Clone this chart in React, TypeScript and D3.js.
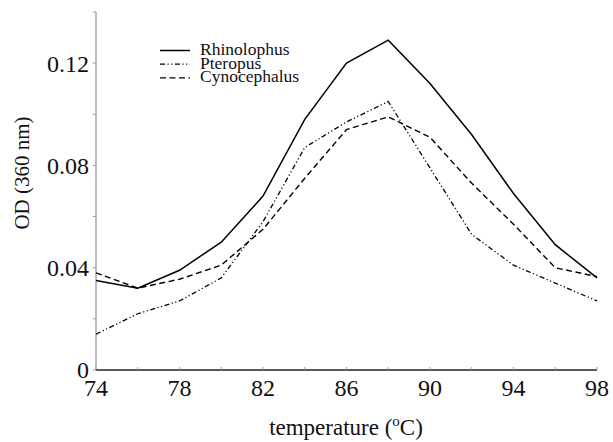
import React from "react";
import * as d3 from "d3";

const temps = [74, 76, 78, 80, 82, 84, 86, 88, 90, 92, 94, 96, 98];
const rhinolophus = [0.035, 0.032, 0.039, 0.05, 0.068, 0.098, 0.12, 0.129, 0.112, 0.092, 0.069, 0.049, 0.036];
const pteropus = [0.014, 0.022, 0.027, 0.036, 0.058, 0.087, 0.097, 0.105, 0.079, 0.053, 0.041, 0.034, 0.027];
const cynocephalus = [0.038, 0.032, 0.0355, 0.041, 0.055, 0.075, 0.094, 0.099, 0.091, 0.073, 0.057, 0.04, 0.0365];
const seriesNames = ["Rhinolophus", "Pteropus", "Cynocephalus"];
const yTickValues = [0, 0.04, 0.08, 0.12];
const yTickLabels = ["0", "0.04", "0.08", "0.12"];
const yMinorValues = [0.02, 0.06, 0.1, 0.14];
const xTickValues = [74, 78, 82, 86, 90, 94, 98];
const xMinorValues = [76, 80, 84, 88, 92, 96];

const W = 613;
const H = 442;
const FONT = "Liberation Serif, DejaVu Serif, serif";

export default function App() {
  const x = d3.scaleLinear().domain([74, 98]).range([96, 597]);
  const y = d3.scaleLinear().domain([0, 0.14]).range([370, 12]);
  const series = [
    { name: seriesNames[0], values: rhinolophus, dash: "none", width: 1.5 },
    { name: seriesNames[1], values: pteropus, dash: "5,2.5,1.2,2.5,1.2,2.5", width: 1.3 },
    { name: seriesNames[2], values: cynocephalus, dash: "6,3.5", width: 1.4 },
  ];
  const line = d3
    .line<[number, number]>()
    .x((d) => x(d[0]))
    .y((d) => y(d[1]));
  const axisGray = "#9a9a9a";
  const txt = { fontFamily: FONT, fill: "#111" } as React.CSSProperties;
  return (
    <svg
      width={W}
      height={H}
      style={{ position: "absolute", left: 0, top: 0, background: "#fff", fontFamily: FONT }}
    >
      {/* y axis */}
      <line x1={x(74)} x2={x(74)} y1={y(0.14)} y2={y(0)} stroke={axisGray} strokeWidth={1.3} />
      {[...yTickValues, ...yMinorValues].map((v) => (
        <line key={"yt" + v} x1={x(74) - 3} x2={x(74)} y1={y(v)} y2={y(v)} stroke={axisGray} strokeWidth={1} />
      ))}
      {yTickValues.map((v, i) => (
        <text key={"yl" + v} x={89} y={y(v)} dy="0.35em" textAnchor="end" fontSize={24} style={txt}>
          {yTickLabels[i]}
        </text>
      ))}
      {/* x axis */}
      <line x1={x(74)} x2={x(98)} y1={y(0)} y2={y(0)} stroke="#222" strokeWidth={1.3} />
      {[...xTickValues, ...xMinorValues].map((v) => (
        <line key={"xt" + v} x1={x(v)} x2={x(v)} y1={y(0)} y2={y(0) - 3} stroke={axisGray} strokeWidth={1} />
      ))}
      {xTickValues.map((v) => (
        <text key={"xl" + v} x={x(v)} y={396} textAnchor="middle" fontSize={24} style={txt}>
          {v}
        </text>
      ))}
      {/* axis titles */}
      <text x={346} y={435} textAnchor="middle" fontSize={23} style={txt}>
        temperature (
        <tspan dy={-9} fontSize={15}>o</tspan>
        <tspan dy={9}>C)</tspan>
      </text>
      <text transform="translate(29,173) rotate(-90)" textAnchor="middle" fontSize={21} style={txt}>
        OD (360 nm)
      </text>
      {/* series */}
      {series.map((s) => (
        <path
          key={s.name}
          d={line(temps.map((t, i) => [t, s.values[i]] as [number, number])) || ""}
          fill="none"
          stroke="#000"
          strokeWidth={s.width}
          strokeDasharray={s.dash}
        />
      ))}
      {/* legend */}
      {series.map((s, i) => (
        <g key={"lg" + s.name} transform={`translate(160, ${50.5 + i * 13.7})`}>
          <line x1={0} x2={30} y1={0} y2={0} stroke="#000" strokeWidth={s.width} strokeDasharray={s.dash} />
          <text x={40} y={4.5} fontSize={17.5} style={txt}>
            {s.name}
          </text>
        </g>
      ))}
    </svg>
  );
}
